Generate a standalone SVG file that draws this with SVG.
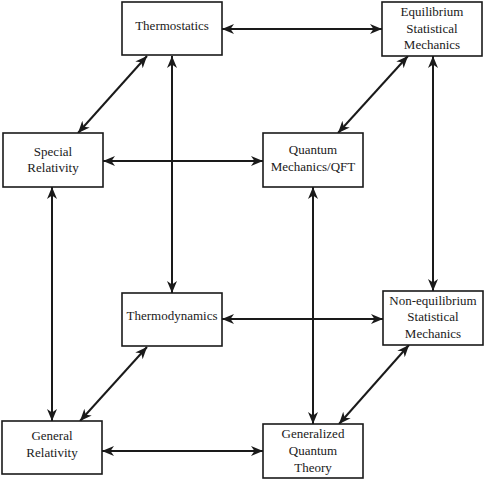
<svg xmlns="http://www.w3.org/2000/svg" width="484" height="484" viewBox="0 0 484 484">
<style>
.box{fill:#fff;stroke:#1a1a1a;stroke-width:1.6}
.lbl{font-family:"Liberation Serif","DejaVu Serif",serif;font-size:13px;fill:#1a1a1a;text-anchor:middle}
.c{stroke:#1a1a1a;stroke-width:2;fill:none;marker-start:url(#ah);marker-end:url(#ah)}
</style>
<defs>
<marker id="ah" viewBox="0 0 12 10" refX="12" refY="5" markerWidth="12" markerHeight="10" markerUnits="userSpaceOnUse" orient="auto-start-reverse">
<path d="M0,0 L12,5 L0,10 L3.5,5 z" fill="#1a1a1a"/>
</marker>
</defs>
<rect width="484" height="484" fill="#fff"/>
<g id="connectors">
<line class="c" x1="222" y1="29" x2="382" y2="29"/>
<line class="c" x1="172" y1="56" x2="172" y2="293"/>
<line class="c" x1="147" y1="56" x2="78" y2="133"/>
<line class="c" x1="103" y1="161" x2="263" y2="161"/>
<line class="c" x1="52" y1="187" x2="52" y2="421"/>
<line class="c" x1="408" y1="56" x2="338" y2="133"/>
<line class="c" x1="433" y1="56" x2="433" y2="291"/>
<line class="c" x1="313" y1="187" x2="313" y2="424"/>
<line class="c" x1="222" y1="319" x2="383" y2="319"/>
<line class="c" x1="147" y1="347" x2="80" y2="421"/>
<line class="c" x1="102" y1="451" x2="263" y2="451"/>
<line class="c" x1="409" y1="345" x2="339" y2="424"/>
</g>
<g id="thermostatics">
<rect class="box" x="122" y="2" width="100" height="53"/>
<text class="lbl" x="172" y="30">Thermostatics</text>
</g>
<g id="equilibrium-sm">
<rect class="box" x="382" y="2" width="100" height="54"/>
<text class="lbl" x="432" y="16">Equilibrium</text>
<text class="lbl" x="432" y="32.5">Statistical</text>
<text class="lbl" x="432" y="49">Mechanics</text>
</g>
<g id="special-relativity">
<rect class="box" x="3" y="133" width="100" height="54"/>
<text class="lbl" x="53" y="156">Special</text>
<text class="lbl" x="53" y="172">Relativity</text>
</g>
<g id="qm-qft">
<rect class="box" x="263" y="133" width="100" height="54"/>
<text class="lbl" x="313" y="154">Quantum</text>
<text class="lbl" x="313" y="170.5">Mechanics/QFT</text>
</g>
<g id="thermodynamics">
<rect class="box" x="122" y="293" width="100" height="53"/>
<text class="lbl" x="172" y="320">Thermodynamics</text>
</g>
<g id="nonequilibrium-sm">
<rect class="box" x="383" y="291" width="100" height="54"/>
<text class="lbl" x="433" y="304.5">Non-equilibrium</text>
<text class="lbl" x="433" y="321">Statistical</text>
<text class="lbl" x="433" y="337.5">Mechanics</text>
</g>
<g id="general-relativity">
<rect class="box" x="2" y="421" width="100" height="53"/>
<text class="lbl" x="52" y="440">General</text>
<text class="lbl" x="52" y="457">Relativity</text>
</g>
<g id="generalized-qt">
<rect class="box" x="263" y="424" width="100" height="54"/>
<text class="lbl" x="313" y="438">Generalized</text>
<text class="lbl" x="313" y="455">Quantum</text>
<text class="lbl" x="313" y="472">Theory</text>
</g>
</svg>
